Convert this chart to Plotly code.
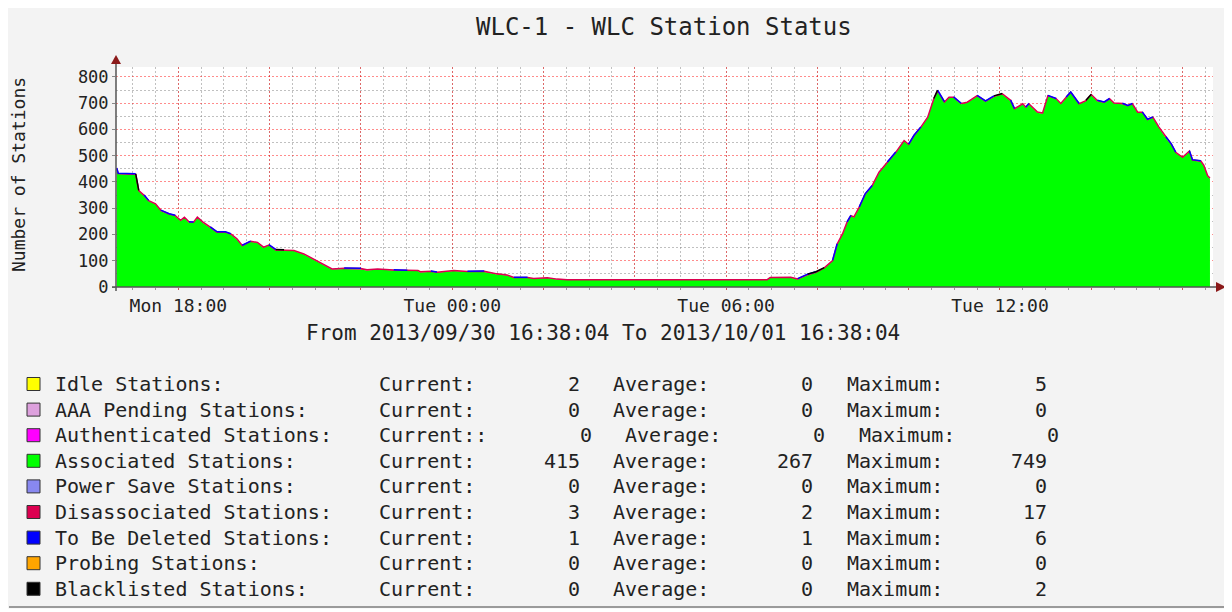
import plotly.graph_objects as go

# ---------------- data ----------------
times = [
    "2013-09-30 16:39", "2013-09-30 16:41", "2013-09-30 17:04", "2013-09-30 17:08", "2013-09-30 17:15",
    "2013-09-30 17:21", "2013-09-30 17:30", "2013-09-30 17:37", "2013-09-30 17:48", "2013-09-30 17:56",
    "2013-09-30 18:03", "2013-09-30 18:08", "2013-09-30 18:14", "2013-09-30 18:20", "2013-09-30 18:25",
    "2013-09-30 18:32", "2013-09-30 18:42", "2013-09-30 18:51", "2013-09-30 19:02", "2013-09-30 19:09",
    "2013-09-30 19:17", "2013-09-30 19:24", "2013-09-30 19:35", "2013-09-30 19:44", "2013-09-30 19:52",
    "2013-09-30 19:59", "2013-09-30 20:08", "2013-09-30 20:19", "2013-09-30 20:32", "2013-09-30 20:45",
    "2013-09-30 20:58", "2013-09-30 21:11", "2013-09-30 21:22", "2013-09-30 21:38", "2013-09-30 22:00",
    "2013-09-30 22:08", "2013-09-30 22:22", "2013-09-30 22:43", "2013-09-30 23:01", "2013-09-30 23:15",
    "2013-09-30 23:18", "2013-09-30 23:32", "2013-09-30 23:40", "2013-10-01 00:02", "2013-10-01 00:20",
    "2013-10-01 00:42", "2013-10-01 00:59", "2013-10-01 01:12", "2013-10-01 01:21", "2013-10-01 01:39",
    "2013-10-01 01:47", "2013-10-01 02:05", "2013-10-01 02:18", "2013-10-01 02:31", "2013-10-01 06:54",
    "2013-10-01 06:58", "2013-10-01 07:25", "2013-10-01 07:34", "2013-10-01 07:47", "2013-10-01 07:58",
    "2013-10-01 08:09", "2013-10-01 08:20", "2013-10-01 08:26", "2013-10-01 08:33", "2013-10-01 08:39",
    "2013-10-01 08:44", "2013-10-01 08:48", "2013-10-01 08:55", "2013-10-01 09:03", "2013-10-01 09:12",
    "2013-10-01 09:21", "2013-10-01 09:32", "2013-10-01 09:43", "2013-10-01 09:54", "2013-10-01 10:00",
    "2013-10-01 10:07", "2013-10-01 10:16", "2013-10-01 10:25", "2013-10-01 10:33", "2013-10-01 10:38",
    "2013-10-01 10:47", "2013-10-01 10:53", "2013-10-01 10:59", "2013-10-01 11:09", "2013-10-01 11:17",
    "2013-10-01 11:30", "2013-10-01 11:41", "2013-10-01 11:52", "2013-10-01 12:03", "2013-10-01 12:14",
    "2013-10-01 12:19", "2013-10-01 12:30", "2013-10-01 12:34", "2013-10-01 12:38", "2013-10-01 12:49",
    "2013-10-01 12:56", "2013-10-01 13:03", "2013-10-01 13:14", "2013-10-01 13:20", "2013-10-01 13:27",
    "2013-10-01 13:33", "2013-10-01 13:44", "2013-10-01 13:53", "2013-10-01 14:00", "2013-10-01 14:08",
    "2013-10-01 14:17", "2013-10-01 14:24", "2013-10-01 14:30", "2013-10-01 14:41", "2013-10-01 14:48",
    "2013-10-01 14:54", "2013-10-01 15:01", "2013-10-01 15:07", "2013-10-01 15:14", "2013-10-01 15:21",
    "2013-10-01 15:29", "2013-10-01 15:38", "2013-10-01 15:45", "2013-10-01 15:51", "2013-10-01 16:00",
    "2013-10-01 16:09", "2013-10-01 16:13", "2013-10-01 16:24", "2013-10-01 16:28", "2013-10-01 16:33",
    "2013-10-01 16:36",
]

associated = [
    450, 430, 427, 365, 346, 327, 315, 289, 276, 270,
    251, 264, 245, 245, 264, 245, 226, 207, 207, 200,
    181, 156, 172, 168, 149, 158, 139, 139, 137, 124,
    105, 86, 67, 69, 67, 63, 67, 63, 61, 61,
    55, 58, 54, 61, 57, 57, 48, 44, 35, 35,
    31, 34, 29, 27, 27, 35, 35, 29, 45, 54,
    71, 99, 162, 200, 245, 270, 264, 302, 353, 384,
    435, 473, 511, 556, 541, 575, 607, 645, 715, 746,
    702, 721, 721, 696, 702, 727, 706, 724, 734, 708,
    677, 696, 683, 696, 664, 660, 727, 715, 696, 721,
    740, 696, 708, 731, 708, 702, 715, 699, 696, 689,
    696, 664, 664, 635, 645, 607, 568, 543, 511, 492,
    515, 482, 477, 461, 422, 412,
]

disassociated = [
    2, 2, 2, 2, 3, 2, 2, 3, 2, 2,
    3, 2, 3, 2, 2, 3, 2, 2, 2, 2,
    3, 2, 2, 2, 3, 2, 2, 2, 2, 2,
    2, 2, 2, 2, 3, 3, 2, 2, 2, 2,
    3, 2, 2, 2, 2, 3, 2, 2, 1, 1,
    1, 1, 1, 1, 1, 1, 2, 2, 2, 2,
    2, 2, 2, 2, 2, 2, 3, 2, 2, 2,
    2, 2, 2, 2, 2, 2, 2, 2, 2, 2,
    3, 2, 2, 3, 2, 2, 2, 2, 2, 3,
    2, 2, 2, 2, 3, 3, 2, 2, 3, 2,
    2, 2, 2, 2, 2, 2, 2, 2, 3, 2,
    2, 2, 2, 3, 2, 2, 3, 2, 2, 2,
    3, 2, 3, 2, 2, 3,
]

to_be_deleted = [
    1, 1, 1, 0, 1, 1, 0, 1, 1, 1,
    0, 0, 1, 1, 0, 0, 1, 1, 1, 1,
    0, 1, 1, 0, 0, 1, 1, 0, 1, 0,
    0, 1, 0, 1, 1, 0, 0, 1, 1, 0,
    0, 1, 1, 0, 1, 1, 0, 0, 1, 1,
    0, 0, 0, 0, 0, 0, 0, 1, 1, 1,
    0, 1, 1, 0, 1, 1, 0, 1, 1, 1,
    0, 1, 1, 0, 1, 1, 1, 0, 0, 1,
    1, 0, 1, 1, 0, 1, 1, 1, 0, 1,
    1, 0, 1, 1, 0, 0, 1, 1, 0, 1,
    1, 1, 0, 0, 1, 1, 1, 0, 1, 1,
    1, 0, 1, 1, 1, 0, 1, 1, 1, 0,
    1, 1, 1, 0, 0, 1,
]

blacklisted = [
    0, 0, 1, 1, 0, 0, 0, 0, 0, 0,
    0, 0, 0, 0, 0, 0, 0, 0, 0, 0,
    0, 0, 0, 0, 0, 0, 1, 1, 0, 0,
    0, 0, 0, 0, 0, 0, 0, 0, 0, 0,
    0, 0, 0, 0, 0, 0, 0, 0, 0, 0,
    0, 0, 0, 0, 0, 0, 0, 0, 1, 1,
    1, 0, 0, 0, 0, 0, 0, 0, 0, 0,
    0, 0, 0, 0, 0, 0, 0, 0, 1, 1,
    0, 0, 0, 0, 0, 0, 0, 1, 1, 0,
    0, 0, 0, 0, 0, 0, 0, 0, 0, 0,
    0, 0, 1, 1, 0, 0, 0, 0, 0, 0,
    0, 0, 0, 0, 0, 0, 0, 0, 0, 0,
    0, 0, 0, 0, 0, 0,
]

grid_times = [
    "2013-09-30 18:00", "2013-09-30 20:00", "2013-09-30 22:00", "2013-10-01 00:00",
    "2013-10-01 02:00", "2013-10-01 04:00", "2013-10-01 06:00", "2013-10-01 08:00",
    "2013-10-01 10:00", "2013-10-01 12:00", "2013-10-01 14:00", "2013-10-01 16:00",
]
grid_labels = ["Mon 18:00", "", "", "Tue 00:00", "", "", "Tue 06:00", "", "", "Tue 12:00", "", ""]

legend_names = [
    "Idle Stations:", "AAA Pending Stations:", "Authenticated Stations:", "Associated Stations:",
    "Power Save Stations:", "Disassociated Stations:", "To Be Deleted Stations:",
    "Probing Stations:", "Blacklisted Stations:",
]
legend_colors = ["#FFFF00", "#DDA0DD", "#FF00FF", "#00FF00", "#8888F0",
                 "#DC0050", "#0000FF", "#FFA500", "#000000"]
current_label = ["Current:", "Current:", "Current::", "Current:", "Current:",
                 "Current:", "Current:", "Current:", "Current:"]
current_vals = [2, 0, 0, 415, 0, 3, 1, 0, 0]
average_vals = [0, 0, 0, 267, 0, 2, 1, 0, 0]
maximum_vals = [5, 0, 0, 749, 0, 17, 6, 0, 2]

title_text = "WLC-1 - WLC Station Status"
y_title = "Number of Stations"
range_text = "From 2013/09/30 16:38:04 To 2013/10/01 16:38:04"

# ---------------- geometry (reference-pixel coordinates) ----------------
PAGE_OFF = 8                      # browser body margin
FIG_W, FIG_H = 1232 - PAGE_OFF, 612 - PAGE_OFF
L, R, T, B = 116, 1213, 67, 287   # plot area in page pixels
W, H = R - L, B - T


def fx(px):
    return (px - L) / W


def fy(py):
    return (B - py) / H


MONO = "DejaVu Sans Mono"
TXT = "#222222"

fig = go.Figure()

fig.add_trace(go.Scatter(
    x=times, y=associated, stackgroup="s", mode="lines",
    line=dict(width=0, color="#00FF00"), fillcolor="#00FF00", hoverinfo="skip"))
fig.add_trace(go.Scatter(
    x=times, y=disassociated, stackgroup="s", mode="lines",
    line=dict(width=1.5, color="#DC0050"), fillcolor="#DC0050", hoverinfo="skip"))

top_total = [a + d + t + k for a, d, t, k in zip(associated, disassociated, to_be_deleted, blacklisted)]
blue_edge = [v if t > 0 else None for v, t in zip(top_total, to_be_deleted)]
black_edge = [v if k > 0 else None for v, k in zip(top_total, blacklisted)]

fig.add_trace(go.Scatter(x=times, y=blue_edge, mode="lines", connectgaps=False,
                         line=dict(width=1.5, color="#0000FF"), hoverinfo="skip"))
fig.add_trace(go.Scatter(x=times, y=black_edge, mode="lines", connectgaps=False,
                         line=dict(width=1.5, color="#000000"), hoverinfo="skip"))

shapes = []
# bottom shadow line of the image frame
shapes.append(dict(type="line", xref="paper", yref="paper", x0=fx(9), x1=fx(1240), y0=fy(607), y1=fy(607),
                   line=dict(width=2, color="#9A9A9A")))
shapes.append(dict(type="rect", xref="paper", yref="paper", x0=fx(0), x1=fx(1240), y0=fy(608.5), y1=fy(620),
                   fillcolor="#FFFFFF", line=dict(width=0), layer="below"))
# axes lines
shapes.append(dict(type="line", xref="paper", yref="paper", x0=fx(116), x1=fx(116), y0=fy(291), y1=fy(62),
                   line=dict(width=1.5, color="#555555"), layer="above"))
shapes.append(dict(type="line", xref="paper", yref="paper", x0=fx(112), x1=fx(1218), y0=fy(287), y1=fy(287),
                   line=dict(width=1.5, color="#555555"), layer="above"))
# arrow heads
shapes.append(dict(type="path", xref="paper", yref="paper",
                   path=f"M {fx(111)} {fy(64)} L {fx(121)} {fy(64)} L {fx(116)} {fy(55)} Z",
                   fillcolor="#8B1A1A", line=dict(width=0), layer="above"))
shapes.append(dict(type="path", xref="paper", yref="paper",
                   path=f"M {fx(1216)} {fy(282)} L {fx(1216)} {fy(292)} L {fx(1226)} {fy(287)} Z",
                   fillcolor="#8B1A1A", line=dict(width=0), layer="above"))

annotations = []
annotations.append(dict(text=title_text, xref="paper", yref="paper", x=fx(664), y=fy(27),
                        xanchor="center", yanchor="middle", showarrow=False,
                        font=dict(family=MONO, size=24, color=TXT)))
annotations.append(dict(text=y_title, xref="paper", yref="paper", x=fx(18), y=fy(175), textangle=-90,
                        xanchor="center", yanchor="middle", showarrow=False,
                        font=dict(family=MONO, size=18, color=TXT)))
annotations.append(dict(text=range_text, xref="paper", yref="paper", x=fx(603), y=fy(333),
                        xanchor="center", yanchor="middle", showarrow=False,
                        font=dict(family=MONO, size=21, color=TXT)))

row_y0, row_dy = 384, 25.6
for i, name in enumerate(legend_names):
    yc = row_y0 + i * row_dy
    off = 12 if current_label[i].endswith("::") else 0
    shapes.append(dict(type="rect", xref="paper", yref="paper", x0=fx(27), x1=fx(40),
                       y0=fy(yc + 6.5), y1=fy(yc - 6.5), fillcolor=legend_colors[i],
                       line=dict(width=1, color="#333333")))
    items = [
        (name, 53, "left"),
        (current_label[i], 377, "left"),
        (str(current_vals[i]), 582 + off, "right"),
        ("Average:", 611 + off, "left"),
        (str(average_vals[i]), 815 + off, "right"),
        ("Maximum:", 845 + off, "left"),
        (str(maximum_vals[i]), 1049 + off, "right"),
    ]
    for txt, xp, anc in items:
        annotations.append(dict(text=txt, xref="paper", yref="paper", x=fx(xp), y=fy(yc),
                                xanchor=anc, yanchor="middle", showarrow=False,
                                font=dict(family=MONO, size=20, color=TXT)))

fig.update_layout(
    width=FIG_W, height=FIG_H,
    margin=dict(l=L - PAGE_OFF, r=FIG_W - (R - PAGE_OFF), t=T - PAGE_OFF, b=FIG_H - (B - PAGE_OFF),
                autoexpand=False),
    paper_bgcolor="#F3F3F3", plot_bgcolor="#FFFFFF",
    showlegend=False, hovermode=False,
    shapes=shapes, annotations=annotations,
    xaxis=dict(
        type="date", range=["2013-09-30 16:38:04", "2013-10-01 16:40:00"],
        tickmode="array", tickvals=grid_times, ticktext=grid_labels,
        showgrid=True, gridcolor="rgba(255,0,0,0.45)", griddash="2px,2px", gridwidth=1,
        ticks="outside", ticklen=2, tickcolor="rgba(220,60,60,0.7)", tickwidth=1,
        minor=dict(dtick=1800000, tick0="2013-09-30 16:00", showgrid=True,
                   gridcolor="rgba(130,130,130,0.5)", griddash="2px,2px", gridwidth=1,
                   ticks="outside", ticklen=2, tickcolor="#999999"),
        showline=False, zeroline=False, fixedrange=True,
        tickfont=dict(family=MONO, size=18, color=TXT),
    ),
    yaxis=dict(
        range=[0, 838], tickmode="linear", tick0=0, dtick=100,
        showgrid=True, gridcolor="rgba(255,0,0,0.45)", griddash="2px,2px", gridwidth=1,
        ticks="outside", ticklen=3, tickcolor="#888888",
        minor=dict(dtick=50, showgrid=True, gridcolor="rgba(130,130,130,0.5)",
                   griddash="2px,2px", gridwidth=1),
        showline=False, zeroline=False, fixedrange=True,
        tickfont=dict(family=MONO, size=17, color=TXT),
    ),
)

fig.write_html("out.html")
